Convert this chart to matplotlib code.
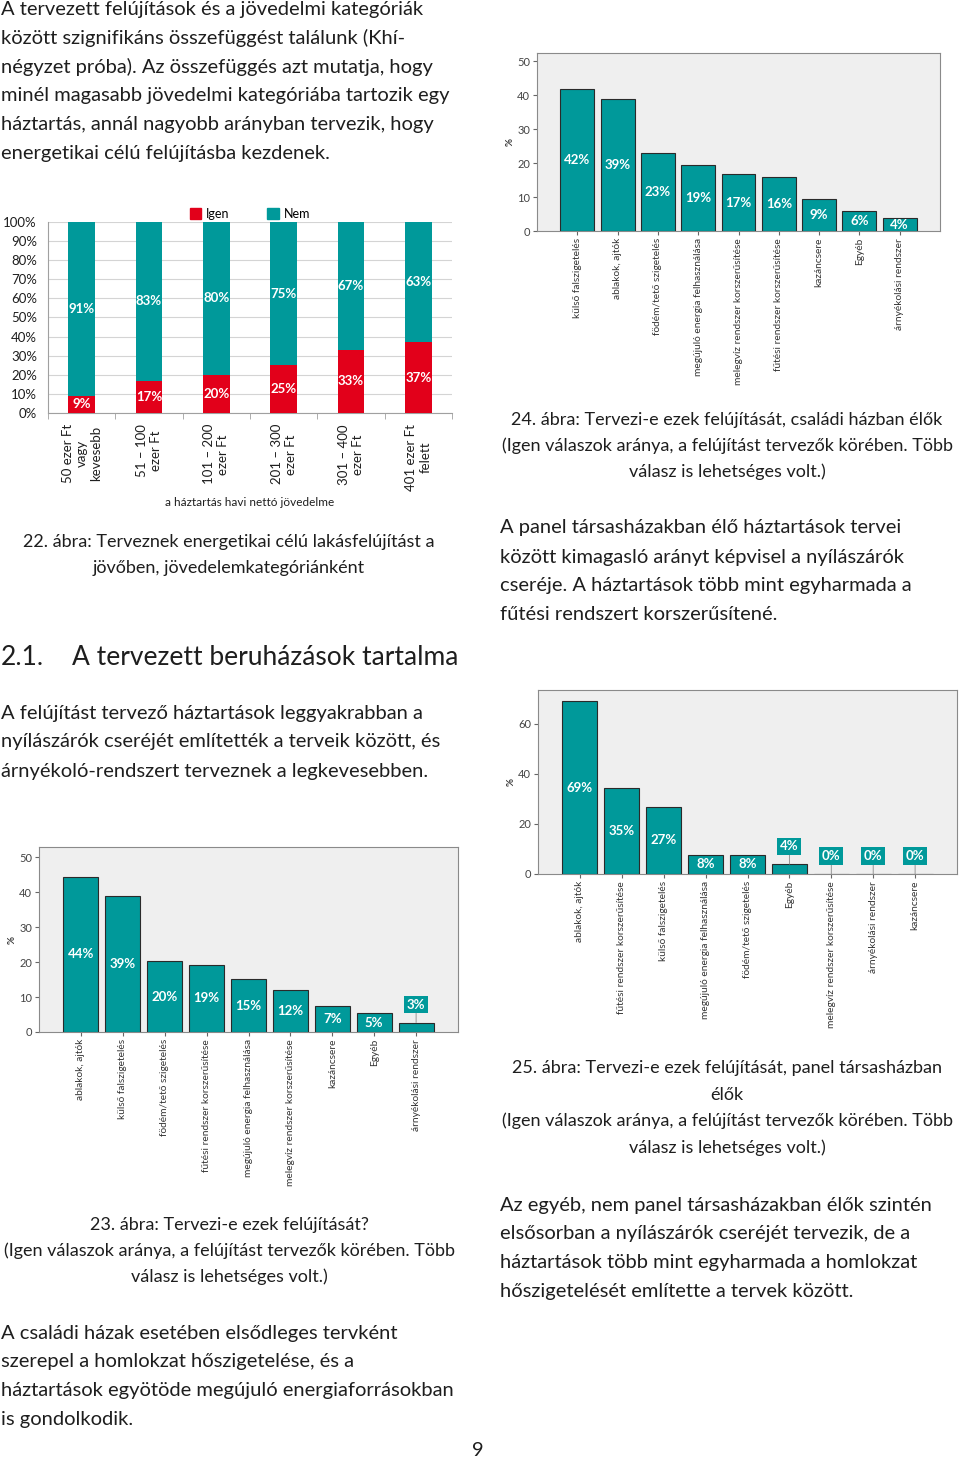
import numpy as np
import matplotlib.pyplot as plt
from matplotlib.patches import Patch

plt.rcParams['font.family'] = ['Lato', 'DejaVu Sans']

W, H = 960, 1461
TEAL = '#00999A'
RED = '#E2001A'
TXT = '#1e1e1e'

# 22. ábra - jövedelemkategóriák
income_cats = ["50 ezer Ft\nvagy\nkevesebb", "51 – 100\nezer Ft", "101 – 200\nezer Ft",
               "201 – 300\nezer Ft", "301 – 400\nezer Ft", "401 ezer Ft\nfelett"]
igen = [9, 17, 20, 25, 33, 37]
nem = [91, 83, 80, 75, 67, 63]

# 23. ábra - összes
cats23 = ["ablakok, ajtók", "külső falszigetelés", "födém/tető szigetelés",
          "fűtési rendszer korszerűsítése", "megújuló energia felhasználása",
          "melegvíz rendszer korszerűsítése", "kazáncsere", "Egyéb", "árnyékolási rendszer"]
vals23 = [44.4, 38.8, 20.3, 19.2, 15.1, 12.0, 7.4, 5.3, 2.7]

# 24. ábra - családi ház
cats24 = ["külső falszigetelés", "ablakok, ajtók", "födém/tető szigetelés",
          "megújuló energia felhasználása", "melegvíz rendszer korszerűsítése",
          "fűtési rendszer korszerűsítése", "kazáncsere", "Egyéb", "árnyékolási rendszer"]
vals24 = [41.7, 38.9, 23.1, 19.4, 16.7, 15.9, 9.3, 5.8, 3.7]

# 25. ábra - panel
cats25 = ["ablakok, ajtók", "fűtési rendszer korszerűsítése", "külső falszigetelés",
          "megújuló energia felhasználása", "födém/tető szigetelés", "Egyéb",
          "melegvíz rendszer korszerűsítése", "árnyékolási rendszer", "kazáncsere"]
vals25 = [69.2, 34.6, 26.8, 7.7, 7.7, 3.9, 0, 0, 0]

fig = plt.figure(figsize=(W / 100, H / 100), dpi=100)


def px_axes(x0, y0, x1, y1):
    return fig.add_axes([x0 / W, 1 - y1 / H, (x1 - x0) / W, (y1 - y0) / H])


def put(x, y, s, size=14.5, ha='left', **kw):
    fig.text(x / W, 1 - y / H, s, fontsize=size, ha=ha, va='center', color=TXT, **kw)


def lines(x, y0, step, rows, size=14.5, ha='left', **kw):
    for i, r in enumerate(rows):
        put(x, y0 + i * step, r, size=size, ha=ha, **kw)


# ---- texts ----
lines(1, 9, 28.8, ["A tervezett felújítások és a jövedelmi kategóriák",
                   "között szignifikáns összefüggést találunk (Khí-",
                   "négyzet próba). Az összefüggés azt mutatja, hogy",
                   "minél magasabb jövedelmi kategóriába tartozik egy",
                   "háztartás, annál nagyobb arányban tervezik, hogy",
                   "energetikai célú felújításba kezdenek."])
lines(229, 542, 26, ["22. ábra: Terveznek energetikai célú lakásfelújítást a",
                     "jövőben, jövedelemkategóriánként"], size=13, ha='center')
put(1, 657, "2.1.", size=19)
put(72, 657, "A tervezett beruházások tartalma", size=19)
lines(1, 713, 29, ["A felújítást tervező háztartások leggyakrabban a",
                   "nyílászárók cseréjét említették a terveik között, és",
                   "árnyékoló-rendszert terveznek a legkevesebben."])
lines(229, 1225, 26, ["23. ábra: Tervezi-e ezek felújítását?",
                      "(Igen válaszok aránya, a felújítást tervezők körében. Több",
                      "válasz is lehetséges volt.)"], size=13, ha='center')
lines(1, 1333, 28.8, ["A családi házak esetében elsődleges tervként",
                      "szerepel a homlokzat hőszigetelése, és a",
                      "háztartások egyötöde megújuló energiaforrásokban",
                      "is gondolkodik."])
put(478, 1451, "9", size=14.5, ha='center')

lines(727, 420, 26, ["24. ábra: Tervezi-e ezek felújítását, családi házban élők",
                     "(Igen válaszok aránya, a felújítást tervezők körében. Több",
                     "válasz is lehetséges volt.)"], size=13, ha='center')
lines(500, 528, 29, ["A panel társasházakban élő háztartások tervei",
                     "között kimagasló arányt képvisel a nyílászárók",
                     "cseréje. A háztartások több mint egyharmada a",
                     "fűtési rendszert korszerűsítené."])
lines(727, 1068, 26.5, ["25. ábra: Tervezi-e ezek felújítását, panel társasházban",
                        "élők",
                        "(Igen válaszok aránya, a felújítást tervezők körében. Több",
                        "válasz is lehetséges volt.)"], size=13, ha='center')
lines(500, 1205, 28.7, ["Az egyéb, nem panel társasházakban élők szintén",
                        "elsősorban a nyílászárók cseréjét tervezik, de a",
                        "háztartások több mint egyharmada a homlokzat",
                        "hőszigetelését említette a tervek között."])

# ---- 22. ábra ----
ax = px_axes(48, 222, 452, 413)
x = np.arange(len(income_cats))
ax.bar(x, igen, width=0.4, color=RED, zorder=3)
ax.bar(x, nem, width=0.4, bottom=igen, color=TEAL, zorder=3)
for i in range(len(x)):
    ax.text(x[i], igen[i] / 2, f"{igen[i]}%", ha='center', va='center', color='white',
            fontsize=9.5, fontweight='bold', zorder=4)
    ax.text(x[i], igen[i] + nem[i] / 2, f"{nem[i]}%", ha='center', va='center', color='white',
            fontsize=9.5, fontweight='bold', zorder=4)
ax.set_xlim(-0.5, len(x) - 0.5)
ax.set_ylim(0, 100)
ax.set_yticks(range(0, 101, 10))
ax.set_yticklabels([f"{v}%" for v in range(0, 101, 10)], fontsize=9.5, color=TXT)
ax.yaxis.grid(True, color='#d4d4d4', lw=0.8, zorder=0)
ax.set_xticks(x)
ax.set_xticklabels(income_cats, rotation=90, fontsize=9.5, color=TXT, va='top',
                   ha='center', multialignment='center')
ax.set_xticks(np.arange(-0.5, len(x), 1), minor=True)
ax.tick_params(axis='x', which='major', length=0, pad=8)
ax.tick_params(axis='x', which='minor', length=4, color='#a0a0a0')
ax.tick_params(axis='y', length=0, pad=8)
for s in ['top', 'right']:
    ax.spines[s].set_visible(False)
for s in ['left', 'bottom']:
    ax.spines[s].set_color('#a0a0a0')
ax.set_xlabel("a háztartás havi nettó jövedelme", fontsize=8.5, color=TXT, labelpad=4)
ax.legend(handles=[Patch(color=RED, label='Igen'), Patch(color=TEAL, label='Nem')],
          loc='lower center', bbox_to_anchor=(0.5, 0.985), ncol=2, frameon=False,
          fontsize=9, handlelength=0.9, handleheight=0.9, handletextpad=0.4,
          columnspacing=3.0, borderaxespad=0)


# ---- SPSS-style bar charts ----
def spss_bars(rect, cats, vals, ymax, yticks, box_below=None):
    ax = px_axes(*rect)
    ax.set_facecolor('#efefef')
    xs = np.arange(len(cats))
    ax.bar(xs, vals, width=0.84, color=TEAL, edgecolor='#2a2a2a', linewidth=0.8, zorder=3)
    for xi, v in zip(xs, vals):
        lab = f"{v:.0f}%"
        if box_below is not None and v < box_below:
            ax.annotate(lab, xy=(xi, v), xytext=(0, 13), textcoords='offset points',
                        ha='center', va='center', color='white', fontsize=9.5,
                        fontweight='bold', zorder=5,
                        bbox=dict(boxstyle='square,pad=0.2', fc=TEAL, ec='none'),
                        arrowprops=dict(arrowstyle='-', color='#888888', lw=0.6,
                                        shrinkA=0, shrinkB=0))
        else:
            ax.text(xi, v / 2, lab, ha='center', va='center', color='white',
                    fontsize=9.5, fontweight='bold', zorder=4)
    ax.set_xlim(-1, len(cats))
    ax.set_ylim(0, ymax)
    ax.set_yticks(yticks)
    ax.set_yticklabels([str(t) for t in yticks], fontsize=8, color='#444444')
    ax.set_xticks(xs)
    ax.set_xticklabels(cats, rotation=90, fontsize=7.3, color='#333333', va='top', ha='center')
    ax.tick_params(length=3, color='#666666', pad=2)
    for s in ax.spines.values():
        s.set_color('#8a8a8a')
        s.set_linewidth(0.8)
    ax.set_ylabel("%", fontsize=7, fontweight='bold', color='#333333', labelpad=2)
    return ax


spss_bars((537, 53, 940, 231), cats24, vals24, 52.4, range(0, 51, 10))
spss_bars((538, 690, 957, 874), cats25, vals25, 73.6, range(0, 61, 20), box_below=5)
spss_bars((39, 847, 458, 1032), cats23, vals23, 52.9, range(0, 51, 10), box_below=4)

fig.savefig("out.png", dpi=100, facecolor='white')
